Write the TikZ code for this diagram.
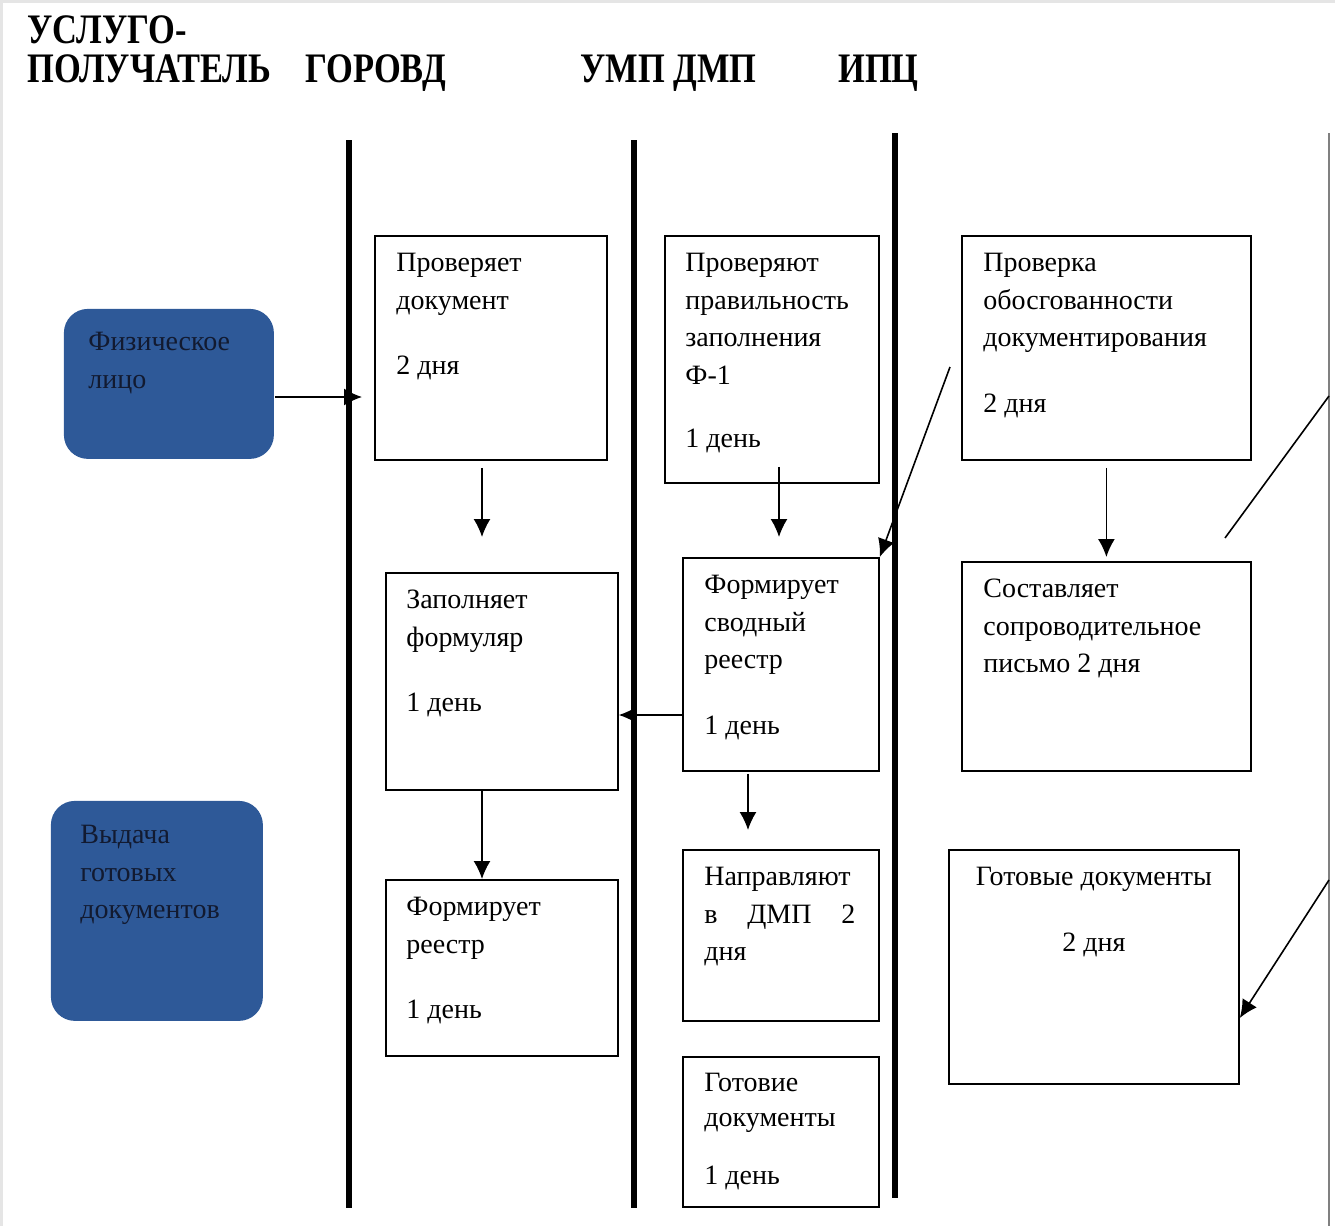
\documentclass[tikz,border=0pt]{standalone}
\usepackage{fontspec}
\setmainfont{Liberation Serif}
\usetikzlibrary{positioning,calc,arrows.meta}

\definecolor{actorblue}{RGB}{46,89,152}
\definecolor{actortext}{RGB}{18,26,48}

\begin{document}
\begin{tikzpicture}[x=0.5pt,y=-0.5pt,
    >={Latex[length=9pt,width=8.5pt]},
    lane/.style={line width=3pt},
    cell/.style={draw,line width=0.9pt,anchor=north west,inner sep=0pt},
    actor/.style={cell,draw=none,fill=actorblue,rounded corners=12pt},
    wh/.style 2 args={minimum width=#1*0.5pt,minimum height=#2*0.5pt},
    txt/.style={anchor=north west,align=left,inner sep=0pt,font=\fontsize{14}{18.75}\selectfont},
    head/.style={anchor=base west,inner sep=0pt,font=\fontsize{21}{24}\selectfont\bfseries},
    link/.style={->,line width=0.8pt},
]
\useasboundingbox (0,0) rectangle (1335,1226);
\draw[gray!20,line width=1.5pt] (1,1226) -- (1,1) -- (1335,1);

% headers
\node[head] (h-usl) at (27,43) {\scalebox{0.82}[1]{УСЛУГО-}};
\node[head] (h-pol) at (27,83) {\scalebox{0.82}[1]{ПОЛУЧАТЕЛЬ}};
\node[head] (h-gor) at (305,83) {\scalebox{0.82}[1]{ГОРОВД}};
\node[head] (h-ump) at (580,83) {\scalebox{0.82}[1]{УМП ДМП}};
\node[head] (h-ipc) at (838,83) {\scalebox{0.82}[1]{ИПЦ}};

% lanes
\coordinate (l1t) at (349,140); \coordinate (l1b) at (349,1208);
\coordinate (l2t) at (634,140); \coordinate (l2b) at (634,1208);
\coordinate (l3t) at (895,133); \coordinate (l3b) at (895,1198);
\coordinate (l4t) at (1329,133); \coordinate (l4b) at (1329,1226);
\draw[lane] (l1t) -- (l1b);
\draw[lane] (l2t) -- (l2b);
\draw[lane] (l3t) -- (l3b);
\draw[gray,line width=1pt] (l4t) -- (l4b);

% actors
\node[actor,wh={210}{150}] (fl) at (63,308) {};
\node[txt,text=actortext] (fl-t) at ([shift={(25,24)}]fl.north west) {Физическое\\лицо};
\node[actor,wh={212}{220}] (vd) at (50,800) {};
\node[txt,text=actortext] (vd-t) at ([shift={(30,25)}]vd.north west) {Выдача\\готовых\\документов};

% ГОРОВД
\node[cell,wh={232}{224}] (pd) at (374,235) {};
\node[txt] (pd-t) at ([shift={(22,18)}]pd.north west) {Проверяет\\документ\\[14pt]2 дня};
\node[cell,wh={232}{217}] (zf) at (385,572) {};
\node[txt] (zf-t) at ([shift={(21,18)}]zf.north west) {Заполняет\\формуляр\\[14pt]1 день};
\node[cell,wh={232}{176}] (fr) at (385,879) {};
\node[txt] (fr-t) at ([shift={(21,18)}]fr.north west) {Формирует\\реестр\\[14pt]1 день};

% УМП ДМП
\node[cell,wh={214}{247}] (pz) at (664,235) {};
\node[txt] (pz-t) at ([shift={(21,18)}]pz.north west) {Проверяют\\правильность\\заполнения\\Ф-1\\[13pt]1 день};
\node[cell,wh={196}{213}] (sr) at (682,557) {};
\node[txt] (sr-t) at ([shift={(22,18)}]sr.north west) {Формирует\\сводный\\реестр\\[14pt]1 день};
\node[cell,wh={196}{171}] (nd) at (682,849) {};
\node[txt] (nd-t) at ([shift={(22,18)}]nd.north west) {Направляют\\\makebox[75.5pt][s]{в\hfill ДМП\hfill 2}\\дня};
\node[cell,wh={196}{150}] (gd1) at (682,1056) {};
\node[txt] (gd1-t) at ([shift={(22,17)}]gd1.north west) {Готовие\\[-1.25pt]документы\\[10pt]1 день};

% ИПЦ
\node[cell,wh={289}{224}] (po) at (961,235) {};
\node[txt] (po-t) at ([shift={(22,18)}]po.north west) {Проверка\\обосгованности\\документирования\\[14pt]2 дня};
\node[cell,wh={289}{209}] (sp) at (961,561) {};
\node[txt] (sp-t) at ([shift={(22,18)}]sp.north west) {Составляет\\сопроводительное\\письмо 2 дня};
\node[cell,wh={290}{234}] (gd2) at (948,849) {};
\node[txt,anchor=north,align=center] (gd2-t) at ([shift={(0,18)}]gd2.north) {Готовые документы\\[14pt]2 дня};

% connectors
\coordinate (a-fl) at (362,397);
\draw[link] (fl.east |- a-fl) -- (a-fl);
\coordinate (a-pd) at (482,537);
\draw[link] (pd.south -| a-pd) ++(0,7) -- (a-pd);
\coordinate (a-pz) at (779,537);
\draw[link] (pz.south -| a-pz) ++(0,-17) -- (a-pz);
\draw[link] (po.south -| sp.north) ++(0,7) -- ([yshift=2pt]sp.north);
\coordinate (a-sr) at (650,715);
\draw[link] (sr.west |- a-sr) -- (zf.east |- a-sr);
\draw[link] (zf.south -| a-pd) -- (fr.north -| a-pd);
\coordinate (a-nd) at (748,830);
\draw[link] (sr.south -| a-nd) ++(0,2) -- (a-nd);
\coordinate (d-ipc) at (950,367);
\draw[link] (d-ipc) -- (sr.north east);
\coordinate (d-sp1) at (1225,538); \coordinate (d-sp2) at (1329,396);
\draw[line width=0.8pt] (d-sp1) -- (d-sp2);
\coordinate (d-gd1) at (1329,880); \coordinate (d-gd2) at (1240,1018);
\draw[link] (d-gd1) -- (gd2.east |- d-gd2);
\end{tikzpicture}
\end{document}
